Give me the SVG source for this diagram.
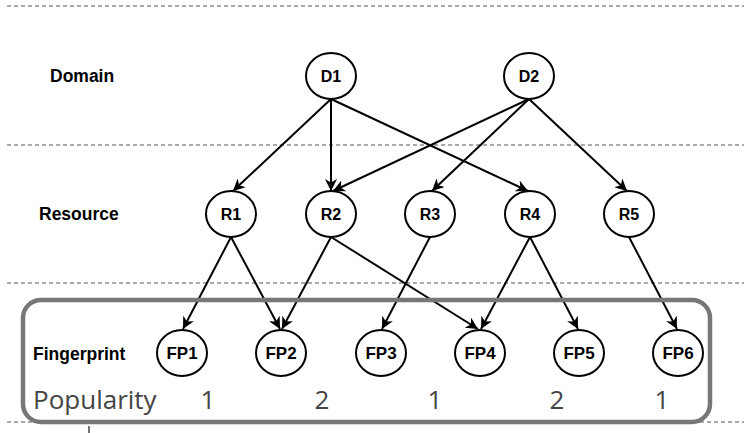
<svg xmlns="http://www.w3.org/2000/svg" width="744" height="433" viewBox="0 0 744 433">
<defs>
<style>
.sep{stroke:#555;stroke-width:1.2;stroke-dasharray:4 3;fill:none}
.node ellipse{fill:#fff;stroke:#000;stroke-width:2}
.node text{font-family:"Liberation Sans",Arial,sans-serif;font-weight:bold;font-size:16px;text-anchor:middle;fill:#000}
.fp text{font-size:17px}
.lbl{font-family:"Liberation Sans",Arial,sans-serif;font-weight:bold;font-size:17.5px;fill:#000}
.edge{stroke:#000;stroke-width:2;fill:none;marker-end:url(#arr)}
.pop{font-family:"Open Sans","Noto Sans",sans-serif;font-size:26px;fill:#444}
</style>
<marker id="arr" markerWidth="12" markerHeight="12" refX="10" refY="5" orient="auto" markerUnits="userSpaceOnUse" viewBox="0 0 10 10">
<path d="M0,0 L10,5 L0,10 L3,5 z" fill="#000"/>
</marker>
</defs>
<rect width="744" height="433" fill="#fff"/>
<g id="separators">
<line class="sep" x1="7" y1="6" x2="744" y2="6"/>
<line class="sep" x1="7" y1="145" x2="744" y2="145"/>
<line class="sep" x1="7" y1="283" x2="744" y2="283"/>
<line class="sep" x1="7" y1="422" x2="744" y2="422"/>
<line x1="89" y1="426" x2="89" y2="433" stroke="#444" stroke-width="1.5"/>
</g>
<g id="labels">
<text class="lbl" x="50" y="82">Domain</text>
<text class="lbl" x="39" y="220">Resource</text>
<text class="lbl" x="33" y="360">Fingerprint</text>
</g>
<g id="connectors">
<line class="edge" x1="331" y1="99" x2="233" y2="191"/>
<line class="edge" x1="331" y1="99" x2="331" y2="191"/>
<line class="edge" x1="331" y1="99" x2="528" y2="191"/>
<line class="edge" x1="529" y1="99" x2="333" y2="191"/>
<line class="edge" x1="529" y1="99" x2="432" y2="191"/>
<line class="edge" x1="529" y1="99" x2="627" y2="191"/>
<line class="edge" x1="231" y1="237" x2="183" y2="329"/>
<line class="edge" x1="231" y1="237" x2="280" y2="329"/>
<line class="edge" x1="331" y1="237" x2="282" y2="329"/>
<line class="edge" x1="331" y1="237" x2="478" y2="329"/>
<line class="edge" x1="430" y1="237" x2="382" y2="329"/>
<line class="edge" x1="530" y1="237" x2="481" y2="329"/>
<line class="edge" x1="530" y1="237" x2="578" y2="329"/>
<line class="edge" x1="629" y1="237" x2="677" y2="329"/>
</g>
<g id="D1" class="node"><ellipse cx="331" cy="76" rx="25" ry="23"/><text x="331" y="81.5">D1</text></g>
<g id="D2" class="node"><ellipse cx="529" cy="76" rx="25" ry="23"/><text x="529" y="81.5">D2</text></g>
<g id="R1" class="node"><ellipse cx="231" cy="214" rx="25" ry="23"/><text x="231" y="219.5">R1</text></g>
<g id="R2" class="node"><ellipse cx="331" cy="214" rx="25" ry="23"/><text x="331" y="219.5">R2</text></g>
<g id="R3" class="node"><ellipse cx="430" cy="214" rx="25" ry="23"/><text x="430" y="219.5">R3</text></g>
<g id="R4" class="node"><ellipse cx="530" cy="214" rx="25" ry="23"/><text x="530" y="219.5">R4</text></g>
<g id="R5" class="node"><ellipse cx="629" cy="214" rx="25" ry="23"/><text x="629" y="219.5">R5</text></g>
<g id="FP1" class="node fp"><ellipse cx="182" cy="353" rx="25" ry="23"/><text x="182" y="359">FP1</text></g>
<g id="FP2" class="node fp"><ellipse cx="281" cy="353" rx="25" ry="23"/><text x="281" y="359">FP2</text></g>
<g id="FP3" class="node fp"><ellipse cx="381" cy="353" rx="25" ry="23"/><text x="381" y="359">FP3</text></g>
<g id="FP4" class="node fp"><ellipse cx="480" cy="353" rx="25" ry="23"/><text x="480" y="359">FP4</text></g>
<g id="FP5" class="node fp"><ellipse cx="579" cy="353" rx="25" ry="23"/><text x="579" y="359">FP5</text></g>
<g id="FP6" class="node fp"><ellipse cx="678" cy="353" rx="25" ry="23"/><text x="678" y="359">FP6</text></g>
<g id="popularity">
<rect x="23" y="300" width="687" height="122" rx="18" fill="none" stroke="#777" stroke-width="4.5"/>
<text class="pop" x="33" y="409">Popularity</text>
<text class="pop" x="208" y="409" text-anchor="middle">1</text>
<text class="pop" x="322" y="409" text-anchor="middle">2</text>
<text class="pop" x="435" y="409" text-anchor="middle">1</text>
<text class="pop" x="557" y="409" text-anchor="middle">2</text>
<text class="pop" x="662" y="409" text-anchor="middle">1</text>
</g>
</svg>
